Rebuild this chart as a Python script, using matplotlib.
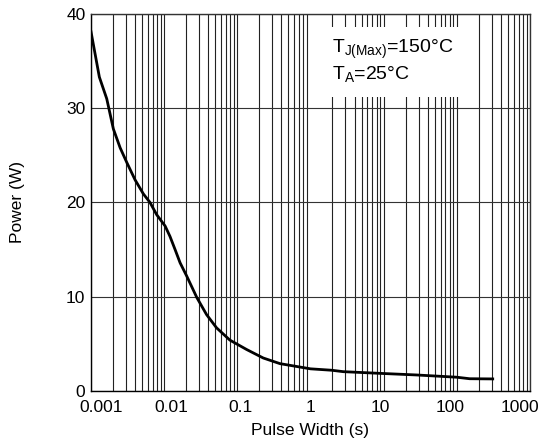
import numpy as np
import matplotlib
matplotlib.use('Agg')
import matplotlib.pyplot as plt
from matplotlib.ticker import FixedLocator, LogLocator, NullFormatter
from matplotlib.patches import Rectangle

plt.rcParams['font.family'] = ['Liberation Sans', 'DejaVu Sans']
plt.rcParams['mathtext.fontset'] = 'custom'
plt.rcParams['mathtext.rm'] = 'Liberation Sans'

# curve
pulse_width = [0.001, 0.0013, 0.00164, 0.00202, 0.0025, 0.0031, 0.004, 0.0052,
               0.0064, 0.0079, 0.0103, 0.012, 0.0141, 0.0165, 0.0203, 0.028,
               0.038, 0.052, 0.079, 0.134, 0.226, 0.383, 0.647, 1.0, 1.95,
               2.8, 8.9, 28, 100, 150, 310]
power = [38.1, 33.3, 31.0, 27.8, 25.8, 24.2, 22.4, 20.9,
         20.0, 18.7, 17.5, 16.4, 15.0, 13.6, 12.2, 9.9,
         8.1, 6.7, 5.4, 4.4, 3.5, 2.9, 2.6, 2.35, 2.2,
         2.05, 1.87, 1.7, 1.46, 1.3, 1.28]

x_labels = ['0.001', '0.01', '0.1', '1', '10', '100', '1000']
y_ticks = [0, 10, 20, 30, 40]

fig = plt.figure(figsize=(5.5, 4.4), dpi=100)
ax = fig.add_axes([0.1655, 0.1114, 0.798, 0.857])

ax.plot(pulse_width, power, color='black', lw=2.0, zorder=3)

ax.set_xscale('log')
ax.set_xlim(1e-3, 1e3)
ax.set_ylim(0, 40)

# labels in the original sit evenly spaced, slightly off the decade lines
label_pos = 10 ** np.linspace(-2.863, 2.863, len(x_labels))
ax.xaxis.set_major_locator(FixedLocator(label_pos))
ax.set_xticklabels(x_labels)
ax.xaxis.set_minor_locator(LogLocator(base=10, subs=np.arange(1, 10), numticks=50))
ax.xaxis.set_minor_formatter(NullFormatter())
ax.set_yticks(y_ticks)

ax.tick_params(which='both', length=0, labelsize=12.5)
ax.tick_params(axis='x', pad=6.5)
ax.tick_params(axis='y', pad=4)
ax.set_axisbelow(True)
ax.grid(which='minor', axis='x', color='#222222', lw=0.8)
ax.grid(which='major', axis='y', color='#333333', lw=0.8)
ax.grid(which='major', axis='x', visible=False)

for s in ax.spines.values():
    s.set_color('#333333')
    s.set_linewidth(1.0)
ax.spines['left'].set_color('black')
ax.spines['bottom'].set_color('black')

ax.set_xlabel('Pulse Width (s)', fontsize=12.5)
ax.set_ylabel('Power (W)', fontsize=12.5)
ax.xaxis.set_label_coords(0.5, -0.085)
ax.yaxis.set_label_coords(-0.15, 0.5)

# white box behind the conditions text
ax.add_patch(Rectangle((0.503, 0.780), 0.376, 0.186, transform=ax.transAxes,
                       facecolor='white', edgecolor='none', zorder=1))
ax.text(0.549, 0.897, r'T$_{\mathrm{J(Max)}}$=150°C', transform=ax.transAxes,
        fontsize=14, va='baseline', ha='left', zorder=4)
ax.text(0.549, 0.825, r'T$_{\mathrm{A}}$=25°C', transform=ax.transAxes,
        fontsize=14, va='baseline', ha='left', zorder=4)

fig.savefig('out.png', dpi=100)
